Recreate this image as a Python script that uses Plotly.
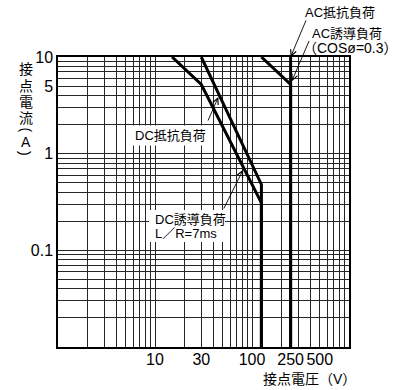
import numpy as np
import plotly.graph_objects as go

# Contact ratings: voltage (V) vs. current (A)
dc_res_v = [30, 125, 125]
dc_res_i = [10, 0.48, 0.01]
dc_ind_v = [15, 30, 125, 125]
dc_ind_i = [10, 5.2, 0.31, 0.01]
ac_res_v = [250, 250]
ac_res_i = [10, 0.01]
ac_ind_v = [125, 250, 250]
ac_ind_i = [10, 5.2, 0.01]

x_tick_vals = [10, 30, 100, 250, 500]
x_tick_text = ["10", "30", "100", "250", "500"]
y_tick_vals = [10, 5, 1, 0.1]
y_tick_text = ["10", "5", "1", "0.1"]

# log grid: 1..9 in every decade
x_minor = [m * 10 ** k for k in range(0, 3) for m in range(1, 10)] + [1000]
y_minor = [m * 10.0 ** k for k in range(-2, 1) for m in range(1, 10)] + [10]

FONT = "Liberation Sans, Arial, Noto Sans CJK JP, sans-serif"
GRID = "#262626"

# plot-area geometry (px) used to place labels in paper coordinates
L, T, W, H = 58, 57, 291, 290


def px(x):
    return (x - L) / W


def py(y):
    return (T + H - y) / H


fig = go.Figure()
for v, i in [(dc_res_v, dc_res_i), (dc_ind_v, dc_ind_i),
             (ac_res_v, ac_res_i), (ac_ind_v, ac_ind_i)]:
    fig.add_trace(go.Scatter(x=v, y=i, mode="lines",
                             line=dict(color="black", width=3),
                             hoverinfo="skip", cliponaxis=False))

axis_common = dict(
    type="log", ticks="", showgrid=True, gridcolor=GRID, gridwidth=1,
    showline=True, mirror=True, linecolor="black", linewidth=1.5,
    zeroline=False, tickfont=dict(size=16, color="black", family=FONT),
)
fig.update_xaxes(range=[0, 3], tickmode="array", tickvals=x_tick_vals,
                 ticktext=x_tick_text, ticklabelstandoff=-3,
                 minor=dict(tickmode="array", tickvals=x_minor, showgrid=True,
                            gridcolor=GRID, gridwidth=1, ticks=""),
                 **axis_common)
fig.update_yaxes(range=[-2, 1], tickmode="array", tickvals=y_tick_vals,
                 ticktext=y_tick_text,
                 minor=dict(tickmode="array", tickvals=y_minor, showgrid=True,
                            gridcolor=GRID, gridwidth=1, ticks=""),
                 **axis_common)

annotations = []

# arrows pointing to each rating curve
arrow = dict(showarrow=True, arrowhead=5, arrowsize=1.3, arrowwidth=0.9,
             arrowcolor="black", text="", xref="x", yref="y", standoff=0)
for (v, i, dx, dy) in [(250, 10, 16, -38), (257, 5.6, 18, -42),
                       (45, 3.85, -11, 25), (81, 0.68, -20, 40)]:
    annotations.append(dict(x=np.log10(v), y=np.log10(i), ax=dx, ay=dy, **arrow))

txt = dict(showarrow=False, xref="paper", yref="paper", yanchor="middle")
f13 = dict(family=FONT, size=13, color="black")
annotations += [
    dict(text="AC抵抗負荷", x=px(340), y=py(12.5), xanchor="center", font=f13, **txt),
    dict(text="AC誘導負荷", x=px(347), y=py(34), xanchor="center", font=f13, **txt),
    dict(text="（COSø=0.3）", x=px(350), y=py(47.5), xanchor="center",
         font=dict(family=FONT, size=14, color="black"), **txt),
    dict(text="DC抵抗負荷", x=px(170), y=py(135.5), xanchor="center",
         bgcolor="white", borderpad=2, font=f13, **txt),
    dict(text="DC誘導負荷", x=px(152.5), y=py(219.5), xanchor="left", font=f13, **txt),
    dict(text="L／R=7ms", x=px(152.5), y=py(233.5), xanchor="left", font=f13, **txt),
]

# vertical y-axis title, one character per row
ytitle = dict(showarrow=False, xref="paper", yref="paper", x=px(25.5),
              xanchor="center", yanchor="middle",
              font=dict(family=FONT, size=14, color="black"))
for ch, yy, ang in [("接", 69, 0), ("点", 85.5, 0), ("電", 102, 0),
                    ("流", 117.5, 0), ("(", 130, 90), ("A", 141.5, 0),
                    (")", 153.5, 90)]:
    annotations.append(dict(text=ch, y=py(yy), textangle=ang, **ytitle))

annotations.append(dict(text="接点電圧（V）", x=px(309), y=py(378.5),
                        xanchor="center", yanchor="middle",
                        showarrow=False, xref="paper", yref="paper",
                        font=dict(family=FONT, size=14, color="black")))

fig.update_layout(
    width=403, height=390,
    margin=dict(l=L, r=403 - L - W, t=T, b=390 - T - H),
    paper_bgcolor="white", plot_bgcolor="white", showlegend=False,
    font=dict(family=FONT, color="black"),
    annotations=annotations,
    shapes=[dict(type="rect", xref="paper", yref="paper",
                 x0=px(149), x1=px(225), y0=py(242), y1=py(210),
                 fillcolor="white", line=dict(width=0), layer="above")],
)

fig.write_html("out.html")
